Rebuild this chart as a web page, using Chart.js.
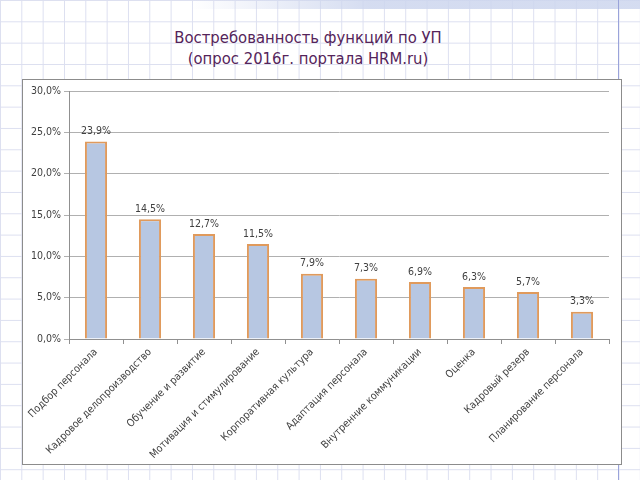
<!DOCTYPE html>
<html>
<head>
<meta charset="utf-8">
<script src="https://cdn.jsdelivr.net/npm/chart.js@4"></script>
<style>
  html, body { margin: 0; padding: 0; }
  body {
    width: 640px; height: 480px; overflow: hidden; position: relative;
    background-color: #fff;
    background-image:
      linear-gradient(to right, #dcdff0 1px, transparent 1px),
      linear-gradient(to bottom, #dcdff0 1px, transparent 1px);
    background-size: 21.33px 21.33px;
    background-position: 0 0;
  }
  #band {
    position: absolute; left: 190px; top: 0; width: 450px; height: 9px;
    background: linear-gradient(to right, rgba(205,214,238,0), rgba(205,214,238,0.85) 40%, rgba(205,214,238,0.85));
  }
  #vline { position: absolute; left: 618px; top: 0; width: 1px; height: 480px; background: #9aa3da; }
  #title {
    position: absolute; left: 108px; top: 27px; width: 400px; text-align: center;
    font-family: "DejaVu Sans Condensed", "DejaVu Sans"; font-stretch: condensed;
    font-size: 16.5px; line-height: 21px; color: #55245a;
  }
  #box {
    position: absolute; left: 22px; top: 79px; width: 598px; height: 384px;
    background: #fff; border: 1px solid #8c8c8c;
  }
</style>
</head>
<body>
<div id="band"></div>
<div id="vline"></div>
<div id="title">Востребованность функций по УП<br>(опрос 2016г. портала HRM.ru)</div>
<div id="box"><canvas id="chart" width="598" height="384"></canvas></div>
<script>
// Survey data
const categories = [
  "Подбор персонала",
  "Кадровое делопроизводство",
  "Обучение и развитие",
  "Мотивация и стимулирование",
  "Корпоративная культура",
  "Адаптация персонала",
  "Внутренние коммуникации",
  "Оценка",
  "Кадровый резерв",
  "Планирование персонала"
];
const values = [23.9, 14.5, 12.7, 11.5, 7.9, 7.3, 6.9, 6.3, 5.7, 3.3];
const yMin = 0, yMax = 30, yStep = 5;

const fontFamily = "'DejaVu Sans Condensed', 'DejaVu Sans'";
const fmt = (v, d) => v.toFixed(d).replace(".", ",") + "%";

// draws the value above each bar
const barLabels = {
  id: "barLabels",
  afterDatasetsDraw(chart) {
    const ctx = chart.ctx;
    ctx.save();
    ctx.font = "10.5px " + fontFamily;
    ctx.fillStyle = "#404040";
    ctx.textAlign = "center";
    ctx.textBaseline = "middle";
    chart.getDatasetMeta(0).data.forEach((bar, i) => {
      ctx.fillText(fmt(values[i], 1), bar.x, bar.y - 10);
    });
    ctx.restore();
  }
};

new Chart(document.getElementById("chart"), {
  type: "bar",
  data: {
    labels: categories,
    datasets: [{
      data: values,
      backgroundColor: "#b7c7e2",
      borderColor: "#e09a5c",
      borderWidth: 2,
      barPercentage: 0.41,
      categoryPercentage: 1
    }]
  },
  options: {
    responsive: false,
    animation: false,
    layout: { padding: { top: 11, right: 12, left: 0, bottom: 0 } },
    plugins: { legend: { display: false }, tooltip: { enabled: false } },
    scales: {
      y: {
        min: yMin, max: yMax,
        afterFit: s => { s.width = 46; },
        ticks: {
          stepSize: yStep, padding: 3, color: "#404040",
          font: { family: fontFamily, size: 10.5 },
          callback: v => fmt(v, 1)
        },
        grid: { color: "#b0b0b0", tickLength: 5 },
        border: { color: "#909090" }
      },
      x: {
        afterFit: s => { s.height = 125; },
        ticks: {
          autoSkip: false, minRotation: 45, maxRotation: 45, padding: 2,
          color: "#404040", font: { family: fontFamily, size: 10.5 }
        },
        grid: { offset: true, drawOnChartArea: false, tickLength: 5, color: "#909090" },
        border: { color: "#909090" }
      }
    }
  },
  plugins: [barLabels]
});
</script>
</body>
</html>
